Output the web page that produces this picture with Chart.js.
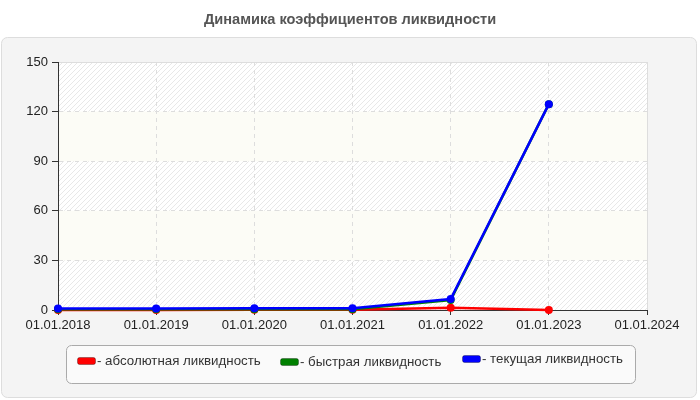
<!DOCTYPE html>
<html>
<head>
<meta charset="utf-8">
<script src="https://cdn.jsdelivr.net/npm/chart.js@4/dist/chart.umd.min.js"></script>
<style>
    body { margin: 0; background: #fff; }
    #wrap { width: 700px; height: 400px; }
</style>
</head>
<body>
<div id="wrap"><canvas id="chart_liquidity" width="700" height="400"></canvas></div>
<script>
'use strict';

/******************************************************************************************
DATA
******************************************************************************************/

var chart_title = 'Динамика коэффициентов ликвидности';
var dates = ['01.01.2018', '01.01.2019', '01.01.2020', '01.01.2021', '01.01.2022', '01.01.2023', '01.01.2024'];
var y_ticks = [0, 30, 60, 90, 120, 150];

var absolute_liquidity = [0.05, 0.05, 0.1, 0.2, 1.4, 0.0];
var quick_liquidity    = [0.4, 0.4, 0.4, 0.5, 6.0, 124.5];
var current_liquidity  = [0.9, 0.9, 1.0, 1.0, 6.6, 124.5];

var series_names  = ['- абсолютная ликвидность', '- быстрая ликвидность', '- текущая ликвидность'];
var series_colors = ['#ff0000', '#008000', '#0000ff'];

var font_family = '"Liberation Sans", Arial, sans-serif';


/******************************************************************************************
BACKGROUND / LEGEND PLUGIN
******************************************************************************************/

// diagonal hatch used for the plot area
function make_hatch() {
    var c = document.createElement('canvas');
    c.width = 5;
    c.height = 5;
    var g = c.getContext('2d');
    g.fillStyle = '#ffffff';
    g.fillRect(0, 0, 5, 5);
    g.strokeStyle = '#e8e8e8';
    g.lineWidth = 1;
    g.beginPath();
    g.moveTo(0, 5); g.lineTo(5, 0);
    g.moveTo(-1, 1); g.lineTo(1, -1);
    g.moveTo(4, 6); g.lineTo(6, 4);
    g.stroke();
    return g.createPattern(c, 'repeat');
}

function round_rect(ctx, x, y, w, h, r) {
    ctx.beginPath();
    ctx.moveTo(x + r, y);
    ctx.lineTo(x + w - r, y);
    ctx.arcTo(x + w, y, x + w, y + r, r);
    ctx.lineTo(x + w, y + h - r);
    ctx.arcTo(x + w, y + h, x + w - r, y + h, r);
    ctx.lineTo(x + r, y + h);
    ctx.arcTo(x, y + h, x, y + h - r, r);
    ctx.lineTo(x, y + r);
    ctx.arcTo(x, y, x + r, y, r);
    ctx.closePath();
}

var panel_plugin = {
    id: 'panel_plugin',
    beforeDraw: function(chart) {
        var ctx = chart.ctx;
        var area = chart.chartArea;
        var y = chart.scales.y;

        ctx.save();
        ctx.fillStyle = '#ffffff';
        ctx.fillRect(0, 0, chart.width, chart.height);

        // title
        ctx.fillStyle = '#555555';
        ctx.font = 'bold 14.6px ' + font_family;
        ctx.textAlign = 'center';
        ctx.textBaseline = 'middle';
        ctx.fillText(chart_title, chart.width / 2, 20);

        // grey panel
        round_rect(ctx, 1.5, 37.5, 695, 360, 6);
        ctx.fillStyle = '#f4f4f4';
        ctx.fill();
        ctx.strokeStyle = '#dddddd';
        ctx.lineWidth = 1;
        ctx.stroke();

        // plot area: hatched, every second band plain
        ctx.fillStyle = make_hatch();
        ctx.fillRect(area.left, area.top, area.right - area.left, area.bottom - area.top);
        ctx.fillStyle = '#fcfcf6';
        for (var i = 1; i < y_ticks.length - 1; i += 2) {
            var y0 = y.getPixelForValue(y_ticks[i]);
            var y1 = y.getPixelForValue(y_ticks[i + 1]);
            ctx.fillRect(area.left, y1, area.right - area.left, y0 - y1);
        }

        // light frame top / right
        ctx.strokeStyle = '#dddddd';
        ctx.beginPath();
        ctx.moveTo(area.left, area.top + 0.5);
        ctx.lineTo(area.right + 0.5, area.top + 0.5);
        ctx.lineTo(area.right + 0.5, area.bottom);
        ctx.stroke();
        ctx.restore();
    },
    afterDraw: function(chart) {
        var ctx = chart.ctx;
        ctx.save();

        // legend box
        round_rect(ctx, 66.5, 345.5, 569, 38, 5);
        ctx.fillStyle = '#fafafa';
        ctx.fill();
        ctx.strokeStyle = '#aaaaaa';
        ctx.lineWidth = 1;
        ctx.stroke();

        var items = [
            { x: 77, y: 357 },
            { x: 280, y: 358 },
            { x: 462, y: 355 }
        ];
        ctx.font = '13.3px ' + font_family;
        ctx.textBaseline = 'middle';
        ctx.textAlign = 'left';
        for (var i = 0; i < items.length; i++) {
            round_rect(ctx, items[i].x + 0.5, items[i].y + 0.5, 18, 7, 2);
            ctx.fillStyle = series_colors[i];
            ctx.fill();
            ctx.strokeStyle = 'rgba(0,0,0,0.3)';
            ctx.stroke();
            ctx.fillStyle = '#333333';
            ctx.fillText(series_names[i], items[i].x + 20, items[i].y + 4);
        }
        ctx.restore();
    }
};


/******************************************************************************************
CHART
******************************************************************************************/

function make_dataset(idx, values, order) {
    return {
        label: series_names[idx],
        data: values,
        borderColor: series_colors[idx],
        backgroundColor: series_colors[idx],
        borderWidth: 2.5,
        pointRadius: 4,
        pointBorderWidth: 0,
        tension: 0,
        clip: false,
        order: order
    };
}

var ctx = document.getElementById('chart_liquidity').getContext('2d');
var liquidity_chart = new Chart(ctx, {
    type: 'line',
    data: {
        labels: dates,
        datasets: [
            make_dataset(0, absolute_liquidity, 2),
            make_dataset(1, quick_liquidity, 1),
            make_dataset(2, current_liquidity, 0)
        ]
    },
    options: {
        responsive: false,
        animation: false,
        devicePixelRatio: 1,
        layout: {
            padding: { left: 0, top: 62, right: 53, bottom: 0 }
        },
        plugins: {
            legend: { display: false },
            title: { display: false },
            tooltip: { enabled: false }
        },
        scales: {
            x: {
                offset: false,
                grid: {
                    color: '#dddddd',
                    tickColor: '#333333',
                    tickLength: 5,
                    tickBorderDash: []
                },
                border: { color: '#333333', width: 1, dash: [4, 4] },
                ticks: {
                    color: '#222222',
                    font: { family: font_family, size: 13 },
                    padding: 3,
                    maxRotation: 0,
                    autoSkip: false
                },
                afterFit: function(scale) { scale.height = 90; }
            },
            y: {
                min: 0,
                max: 150,
                afterBuildTicks: function(scale) {
                    scale.ticks = y_ticks.map(function(v) { return { value: v }; });
                },
                grid: {
                    color: '#dddddd',
                    tickColor: '#333333',
                    tickLength: 6,
                    tickBorderDash: []
                },
                border: { color: '#333333', width: 1, dash: [4, 4] },
                ticks: {
                    color: '#222222',
                    font: { family: font_family, size: 13 },
                    padding: 4
                },
                afterFit: function(scale) { scale.width = 58; }
            }
        }
    },
    plugins: [panel_plugin]
});
</script>
</body>
</html>
